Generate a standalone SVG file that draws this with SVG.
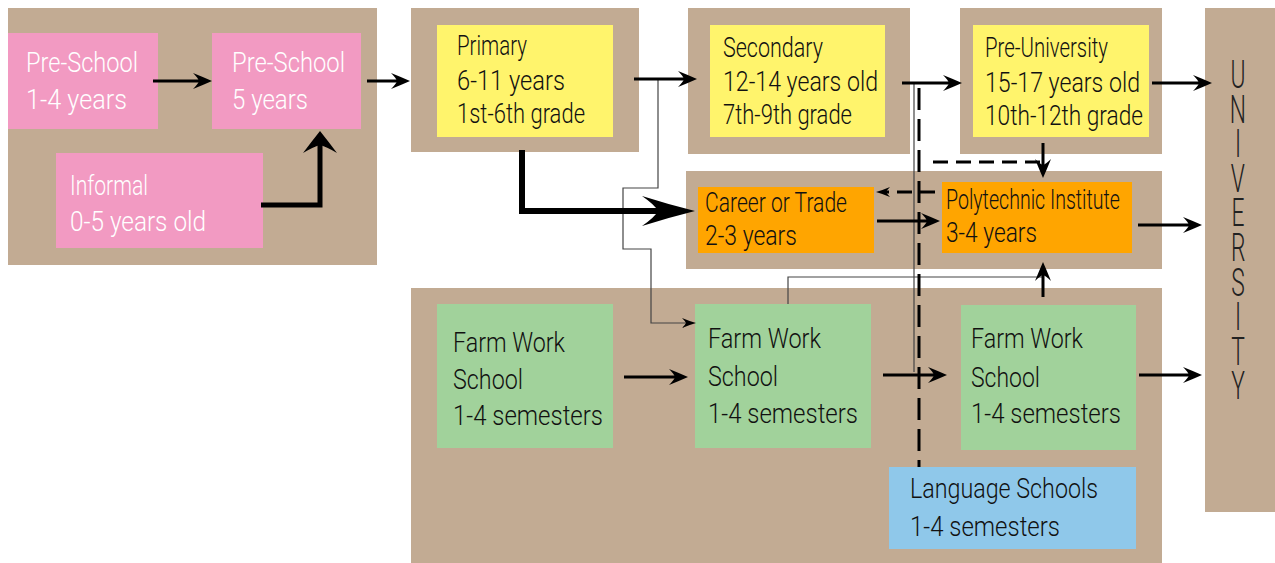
<svg xmlns="http://www.w3.org/2000/svg" width="1275" height="563" viewBox="0 0 1275 563">
<style>
.panel{fill:#C2AB93}
.pink{fill:#F29AC2}
.yellow{fill:#FFF46C}
.orange{fill:#FFA500}
.green{fill:#A1D29B}
.blue{fill:#8FC8EA}
text{font-family:Roboto,"Liberation Sans",Arial,sans-serif;font-weight:300;font-size:28px;fill:#111}
.w{fill:#FFFFFF}
.ln{fill:none;stroke:#000;stroke-width:3}
.thin{fill:none;stroke:#444;stroke-width:1.2}
.dash{fill:none;stroke:#000;stroke-width:3;stroke-dasharray:22 9}
.dash2{fill:none;stroke:#000;stroke-width:3;stroke-dasharray:15 8}
.uni{font-size:38px;fill:#222;writing-mode:vertical-rl;text-orientation:upright;letter-spacing:-10.3px}
</style>
<defs>
<marker id="a" markerUnits="userSpaceOnUse" markerWidth="20" markerHeight="18" refX="6" refY="8" orient="auto" overflow="visible">
<path d="M19,8 Q10,4 0,0 Q5,5 6,8 Q5,11 0,16 Q10,12 19,8Z" fill="#000"/>
</marker>
<marker id="s" markerUnits="userSpaceOnUse" markerWidth="16" markerHeight="12" refX="4" refY="5" orient="auto" overflow="visible">
<path d="M14,5 Q7,3 0,0 Q3,3 4,5 Q3,7 0,10 Q7,7 14,5Z" fill="#000"/>
</marker>
<marker id="b" markerUnits="userSpaceOnUse" markerWidth="24" markerHeight="34" refX="8" refY="17" orient="auto" overflow="visible">
<path d="M22,17 Q12,9 0,0 Q6,10 8,17 Q6,24 0,34 Q12,25 22,17Z" fill="#000"/>
</marker>
<marker id="c" markerUnits="userSpaceOnUse" markerWidth="54" markerHeight="30" refX="16" refY="15" orient="auto" overflow="visible">
<path d="M53,15 Q25,8 0,0 Q13,9 16,15 Q13,21 0,30 Q25,22 53,15Z" fill="#000"/>
</marker>
</defs>

<g id="panels">
<rect class="panel" x="8" y="8" width="369" height="257"/>
<rect class="panel" x="411" y="8" width="228" height="144"/>
<rect class="panel" x="688" y="8" width="222" height="146"/>
<rect class="panel" x="960" y="8" width="202" height="146"/>
<rect class="panel" x="1205" y="8" width="70" height="504"/>
<rect class="panel" x="686" y="171" width="476" height="98"/>
<rect class="panel" x="411" y="288" width="751" height="275"/>
</g>

<g id="preschool1">
<rect class="pink" x="8" y="33" width="150" height="96"/>
<text class="w" x="26" y="72" textLength="112" lengthAdjust="spacingAndGlyphs">Pre-School</text>
<text class="w" x="26" y="109" textLength="101" lengthAdjust="spacingAndGlyphs">1-4 years</text>
</g>
<g id="preschool5">
<rect class="pink" x="212" y="33" width="149" height="96"/>
<text class="w" x="232" y="72" textLength="113" lengthAdjust="spacingAndGlyphs">Pre-School</text>
<text class="w" x="232" y="109" textLength="76" lengthAdjust="spacingAndGlyphs">5 years</text>
</g>
<g id="informal">
<rect class="pink" x="56" y="153" width="207" height="95"/>
<text class="w" x="70" y="195" textLength="78" lengthAdjust="spacingAndGlyphs">Informal</text>
<text class="w" x="70" y="231" textLength="136" lengthAdjust="spacingAndGlyphs">0-5 years old</text>
</g>
<g id="primary">
<rect class="yellow" x="437" y="25" width="176" height="112"/>
<text x="457" y="55" textLength="70" lengthAdjust="spacingAndGlyphs">Primary</text>
<text x="457" y="90" textLength="108" lengthAdjust="spacingAndGlyphs">6-11 years</text>
<text x="457" y="123" textLength="128" lengthAdjust="spacingAndGlyphs">1st-6th grade</text>
</g>
<g id="secondary">
<rect class="yellow" x="710" y="25" width="175" height="112"/>
<text x="723" y="57" textLength="100" lengthAdjust="spacingAndGlyphs">Secondary</text>
<text x="723" y="91" textLength="155" lengthAdjust="spacingAndGlyphs">12-14 years old</text>
<text x="723" y="124" textLength="129" lengthAdjust="spacingAndGlyphs">7th-9th grade</text>
</g>
<g id="preuniversity">
<rect class="yellow" x="973" y="25" width="176" height="112"/>
<text x="985" y="57" textLength="123" lengthAdjust="spacingAndGlyphs">Pre-University</text>
<text x="985" y="92" textLength="155" lengthAdjust="spacingAndGlyphs">15-17 years old</text>
<text x="985" y="125" textLength="158" lengthAdjust="spacingAndGlyphs">10th-12th grade</text>
</g>
<g id="university">
<text class="uni" x="0" y="53" transform="translate(1238,0) scale(0.6,1)">UNIVERSITY</text>
</g>
<g id="career">
<rect class="orange" x="698" y="187" width="176" height="66"/>
<text x="705" y="212" textLength="142" lengthAdjust="spacingAndGlyphs">Career or Trade</text>
<text x="705" y="245" textLength="92" lengthAdjust="spacingAndGlyphs">2-3 years</text>
</g>
<g id="polytechnic">
<rect class="orange" x="942" y="182" width="190" height="71"/>
<text x="946" y="209" textLength="174" lengthAdjust="spacingAndGlyphs">Polytechnic Institute</text>
<text x="946" y="242" textLength="91" lengthAdjust="spacingAndGlyphs">3-4 years</text>
</g>
<g id="farm1">
<rect class="green" x="437" y="304" width="176" height="144"/>
<text x="453" y="352" textLength="112" lengthAdjust="spacingAndGlyphs">Farm Work</text>
<text x="453" y="389" textLength="70" lengthAdjust="spacingAndGlyphs">School</text>
<text x="453" y="425" textLength="150" lengthAdjust="spacingAndGlyphs">1-4 semesters</text>
</g>
<g id="farm2">
<rect class="green" x="695" y="304" width="176" height="144"/>
<text x="708" y="348" textLength="113" lengthAdjust="spacingAndGlyphs">Farm Work</text>
<text x="708" y="386" textLength="70" lengthAdjust="spacingAndGlyphs">School</text>
<text x="708" y="423" textLength="150" lengthAdjust="spacingAndGlyphs">1-4 semesters</text>
</g>
<g id="farm3">
<rect class="green" x="961" y="305" width="175" height="145"/>
<text x="971" y="348" textLength="112" lengthAdjust="spacingAndGlyphs">Farm Work</text>
<text x="971" y="387" textLength="69" lengthAdjust="spacingAndGlyphs">School</text>
<text x="971" y="423" textLength="150" lengthAdjust="spacingAndGlyphs">1-4 semesters</text>
</g>
<g id="language">
<rect class="blue" x="889" y="467" width="247" height="82"/>
<text x="910" y="498" textLength="188" lengthAdjust="spacingAndGlyphs">Language Schools</text>
<text x="910" y="536" textLength="150" lengthAdjust="spacingAndGlyphs">1-4 semesters</text>
</g>

<g id="connectors">
<path class="thin" d="M658,79 V188 H623 V249 H651 V323 H686" marker-end="url(#s)"/>
<path class="thin" d="M788,304 V277 H1043"/>
<path class="thin" d="M914,83 V372"/>
<path class="dash" d="M919,88 V467"/>
<path class="dash2" d="M933,162 H1043"/>
<path class="ln" d="M153,81 H199" marker-end="url(#a)"/>
<path class="ln" style="stroke-width:5" d="M261,205 H320 V145" marker-end="url(#b)"/>
<path class="ln" d="M367,81 H397" marker-end="url(#a)"/>
<path class="ln" d="M634,79 H684" marker-end="url(#a)"/>
<path class="ln" style="stroke-width:6" d="M522,150 V211 H658" marker-end="url(#c)"/>
<path class="ln" d="M902,83 H949" marker-end="url(#a)"/>
<path class="ln" d="M1152,83 H1199" marker-end="url(#a)"/>
<path class="ln" d="M1043,143 V165" marker-end="url(#a)"/>
<path class="dash2" d="M935,192 H886" marker-end="url(#s)"/>
<path class="ln" d="M877,221 H927" marker-end="url(#a)"/>
<path class="ln" d="M1138,225 H1189" marker-end="url(#a)"/>
<path class="ln" d="M624,377 H675" marker-end="url(#a)"/>
<path class="ln" d="M883,375 H934" marker-end="url(#a)"/>
<path class="ln" d="M1139,375 H1189" marker-end="url(#a)"/>
<path class="ln" d="M1043,297 V275" marker-end="url(#a)"/>
</g>
</svg>
